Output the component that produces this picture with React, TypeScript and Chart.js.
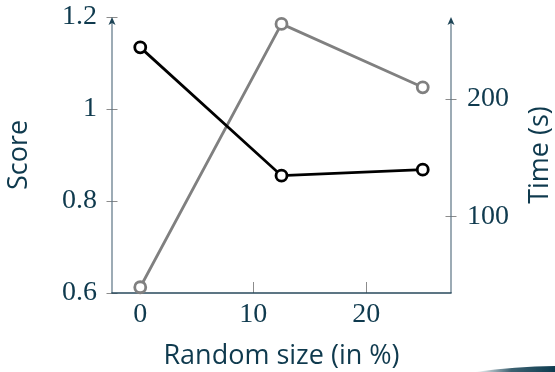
import { useEffect, useRef } from 'react';
import { Chart, registerables } from 'chart.js';

Chart.register(...registerables);

const xValues = [0, 12.5, 25];
const scoreValues = [1.134, 0.855, 0.868];
const timeValues = [39.6, 264, 210];

const xTicks = [0, 10, 20];
const xTickLabels = ['0', '10', '20'];
const scoreTicks = [0.6, 0.8, 1.0, 1.2];
const scoreTickLabels = ['0.6', '0.8', '1', '1.2'];
const timeTicks = [100, 200];
const timeTickLabels = ['100', '200'];

const xTitle = 'Random size (in %)';
const scoreTitle = 'Score';
const timeTitle = 'Time (s)';

const TEXT = '#0f3a4e';
const SERIF = "'Liberation Serif', serif";
const SANS = "'Open Sans', sans-serif";
const TICK_SIZE = 28;
const TITLE_SIZE = 27;

const axesPlugin = {
  id: 'customAxes',
  beforeDatasetsDraw(chart: any) {
    const { ctx, chartArea } = chart;
    const { left, right, top, bottom } = chartArea;
    const sx = chart.scales.x;
    const sy = chart.scales.y;
    const sy1 = chart.scales.y1;
    const line = (x1: number, y1: number, x2: number, y2: number) => {
      ctx.beginPath();
      ctx.moveTo(x1, y1);
      ctx.lineTo(x2, y2);
      ctx.stroke();
    };
    ctx.save();
    ctx.strokeStyle = '#8c8c8c';
    ctx.lineWidth = 1;
    sy.ticks.forEach((t: any) => {
      const y = Math.round(sy.getPixelForValue(t.value)) + 0.5;
      line(left - 5.5, y, left + 5.5, y);
    });
    sy1.ticks.forEach((t: any) => {
      const y = Math.round(sy1.getPixelForValue(t.value)) + 0.5;
      line(right - 5.5, y, right + 5.5, y);
    });
    sx.ticks.forEach((t: any) => {
      const x = Math.round(sx.getPixelForValue(t.value)) + 0.5;
      line(x, bottom, x, bottom - 11);
    });
    ctx.strokeStyle = '#5b7384';
    ctx.lineWidth = 1.2;
    line(left, bottom, left, top + 4);
    line(right, bottom, right, top + 4);
    ctx.strokeStyle = '#27495b';
    ctx.lineWidth = 1.6;
    line(left - 0.6, bottom, right + 0.6, bottom);
    const arrow = (x: number) => {
      ctx.fillStyle = '#1d4456';
      ctx.beginPath();
      ctx.moveTo(x, top);
      ctx.lineTo(x + 3.5, top + 8);
      ctx.lineTo(x, top + 6);
      ctx.lineTo(x - 3.5, top + 8);
      ctx.closePath();
      ctx.fill();
    };
    arrow(left);
    arrow(right);
    ctx.restore();
  },
  afterDraw(chart: any) {
    const { ctx, chartArea, width, height } = chart;
    ctx.save();
    ctx.fillStyle = TEXT;
    ctx.font = `${TITLE_SIZE}px ${SANS}`;
    ctx.textAlign = 'center';
    ctx.textBaseline = 'middle';
    ctx.translate(540, (chartArea.top + chartArea.bottom) / 2);
    ctx.rotate(-Math.PI / 2);
    ctx.fillText(timeTitle, 0, 0);
    ctx.restore();

    // decorative swoosh at bottom-right
    ctx.save();
    const g = ctx.createLinearGradient(width - 80, 0, width, 0);
    g.addColorStop(0, 'rgba(13,59,79,0)');
    g.addColorStop(0.45, 'rgba(13,59,79,0.8)');
    g.addColorStop(1, '#0d3b4f');
    ctx.fillStyle = g;
    ctx.beginPath();
    ctx.moveTo(width - 80, height);
    ctx.quadraticCurveTo(width - 40, height - 5.5, width, height - 6);
    ctx.lineTo(width, height);
    ctx.closePath();
    ctx.fill();
    ctx.restore();
  },
};

const zeroPad = (s: any) => {
  s.paddingTop = 0;
  s.paddingBottom = 0;
  s.paddingLeft = 0;
  s.paddingRight = 0;
};

export default function App() {
  const ref = useRef<HTMLCanvasElement | null>(null);
  useEffect(() => {
    if (!ref.current) return;
    const chart = new Chart(ref.current, {
      type: 'line',
      data: {
        datasets: [
          {
            label: scoreTitle,
            data: xValues.map((x, i) => ({ x, y: scoreValues[i] })),
            yAxisID: 'y',
            borderColor: '#000000',
            backgroundColor: '#ffffff',
            pointBackgroundColor: '#ffffff',
            pointBorderColor: '#000000',
            borderWidth: 2.8,
            pointRadius: 5.5,
            pointBorderWidth: 2.8,
            tension: 0,
          },
          {
            label: timeTitle,
            data: xValues.map((x, i) => ({ x, y: timeValues[i] })),
            yAxisID: 'y1',
            borderColor: '#808080',
            backgroundColor: '#ffffff',
            pointBackgroundColor: '#ffffff',
            pointBorderColor: '#808080',
            borderWidth: 2.8,
            pointRadius: 5.5,
            pointBorderWidth: 2.8,
            tension: 0,
          },
        ],
      },
      options: {
        animation: false,
        responsive: false,
        devicePixelRatio: 1,
        clip: false as any,
        layout: { padding: { top: 17, left: 0, right: 0, bottom: 0 } },
        plugins: { legend: { display: false }, tooltip: { enabled: false } },
        scales: {
          x: {
            type: 'linear',
            min: -2.5,
            max: 27.5,
            afterBuildTicks: (s: any) => {
              s.ticks = xTicks.map((v) => ({ value: v }));
            },
            afterFit: (s: any) => {
              s.height = 79;
              zeroPad(s);
            },
            grid: { display: false, drawTicks: false },
            border: { display: false },
            ticks: {
              padding: 5,
              color: TEXT,
              font: { family: SERIF, size: TICK_SIZE },
              maxRotation: 0,
              callback: (v: any) => xTickLabels[xTicks.indexOf(Number(v))] ?? '',
            },
            title: {
              display: true,
              text: xTitle,
              color: TEXT,
              font: { family: SANS, size: TITLE_SIZE },
              padding: { top: 0, bottom: -1 },
            },
          },
          y: {
            type: 'linear',
            position: 'left',
            min: 0.6,
            max: 1.2,
            afterBuildTicks: (s: any) => {
              s.ticks = scoreTicks.map((v) => ({ value: v }));
            },
            afterFit: (s: any) => {
              s.width = 112;
              zeroPad(s);
            },
            grid: { display: false, drawTicks: false },
            border: { display: false },
            ticks: {
              padding: 15,
              color: TEXT,
              font: { family: SERIF, size: TICK_SIZE },
              callback: (v: any) => {
                const i = scoreTicks.findIndex((t) => Math.abs(t - Number(v)) < 1e-9);
                return i >= 0 ? scoreTickLabels[i] : '';
              },
            },
            title: {
              display: true,
              text: scoreTitle,
              color: TEXT,
              font: { family: SANS, size: TITLE_SIZE },
              padding: { top: 3, bottom: 0 },
            },
          },
          y1: {
            type: 'linear',
            position: 'right',
            min: 34.7,
            max: 269.9,
            afterBuildTicks: (s: any) => {
              s.ticks = timeTicks.map((v) => ({ value: v }));
            },
            afterFit: (s: any) => {
              s.width = 104;
              zeroPad(s);
            },
            grid: { display: false, drawTicks: false },
            border: { display: false },
            ticks: {
              padding: 16,
              color: TEXT,
              font: { family: SERIF, size: TICK_SIZE },
              callback: (v: any) => timeTickLabels[timeTicks.indexOf(Number(v))] ?? '',
            },
          },
        },
      },
      plugins: [axesPlugin],
    });
    return () => chart.destroy();
  }, []);
  return (
    <div style={{ position: 'fixed', left: 0, top: 0, width: 555, height: 372, background: '#ffffff' }}>
      <canvas ref={ref} width={555} height={372} style={{ display: 'block' }} />
    </div>
  );
}
